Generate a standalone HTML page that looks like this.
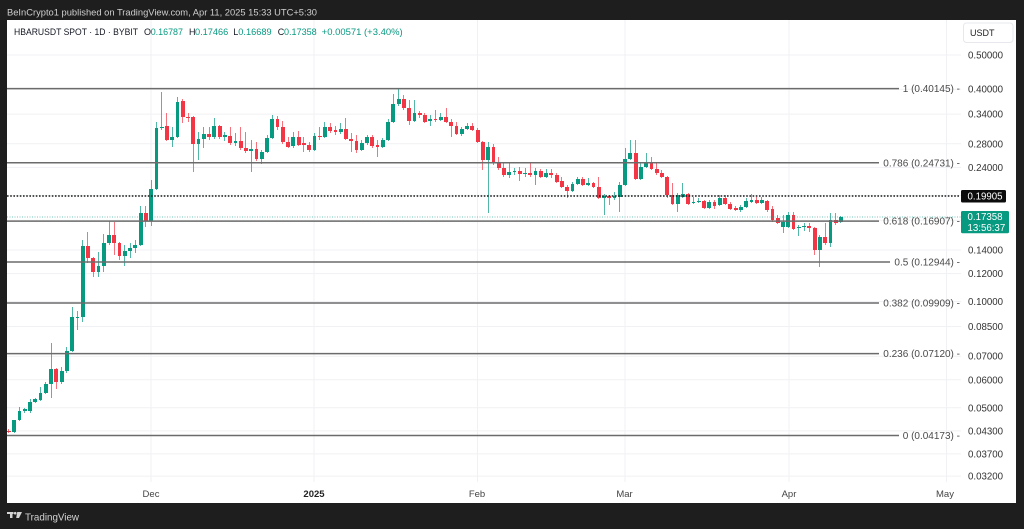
<!DOCTYPE html>
<html><head><meta charset="utf-8">
<style>
*{margin:0;padding:0}
html,body{width:1024px;height:529px;overflow:hidden;background:#1e1e1e;position:relative}
svg{position:absolute;left:0;top:0}
#cs{position:absolute;left:6.365px;top:0;height:529px;display:flex}
#cs i{position:relative;display:block;width:5.27px;flex:none;height:100%}
#cs i::before{content:"";position:absolute;left:2.135px;width:1px;top:calc(var(--h)*1px);height:calc((var(--l) - var(--h))*1px);background:currentColor;opacity:.7}
#cs i::after{content:"";position:absolute;left:0.735px;width:3.8px;top:calc(min(var(--o),var(--c))*1px);height:calc(max(var(--o) - var(--c),var(--c) - var(--o),1)*1px);background:currentColor}
.g{color:#089981}.r{color:#f23645}
text{font-family:"Liberation Sans",Arial,sans-serif}
</style></head><body>
<svg width="1024" height="529">
<rect width="1024" height="529" fill="#1e1e1e"/>
<rect x="7" y="20" width="1009" height="483" fill="#ffffff"/>
<g stroke="#f0f1f4" stroke-width="1">
<line x1="7" x2="961" y1="55" y2="55"/>
<line x1="7" x2="961" y1="89.2" y2="89.2"/>
<line x1="7" x2="961" y1="114.1" y2="114.1"/>
<line x1="7" x2="961" y1="143.8" y2="143.8"/>
<line x1="7" x2="961" y1="167.4" y2="167.4"/>
<line x1="7" x2="961" y1="195.4" y2="195.4"/>
<line x1="7" x2="961" y1="220.3" y2="220.3"/>
<line x1="7" x2="961" y1="250" y2="250"/>
<line x1="7" x2="961" y1="273.6" y2="273.6"/>
<line x1="7" x2="961" y1="301.6" y2="301.6"/>
<line x1="7" x2="961" y1="326.5" y2="326.5"/>
<line x1="7" x2="961" y1="356.2" y2="356.2"/>
<line x1="7" x2="961" y1="379.8" y2="379.8"/>
<line x1="7" x2="961" y1="407.8" y2="407.8"/>
<line x1="7" x2="961" y1="430.9" y2="430.9"/>
<line x1="7" x2="961" y1="453.9" y2="453.9"/>
<line x1="7" x2="961" y1="476.1" y2="476.1"/>
<line x1="151" x2="151" y1="20" y2="482"/>
<line x1="314" x2="314" y1="20" y2="482"/>
<line x1="477.5" x2="477.5" y1="20" y2="482"/>
<line x1="625" x2="625" y1="20" y2="482"/>
<line x1="789" x2="789" y1="20" y2="482"/>
<line x1="946.5" x2="946.5" y1="20" y2="482"/>
</g>
</svg>
<div id="cs">
<i class="r" style="--o:431;--h:429;--l:433;--c:432"></i>
<i class="g" style="--o:432;--h:420;--l:433;--c:420"></i>
<i class="g" style="--o:420;--h:407;--l:421;--c:411"></i>
<i class="g" style="--o:411;--h:408;--l:413;--c:409"></i>
<i class="g" style="--o:411;--h:399;--l:413;--c:402"></i>
<i class="g" style="--o:402;--h:398;--l:403;--c:399"></i>
<i class="g" style="--o:400;--h:387;--l:401;--c:393"></i>
<i class="g" style="--o:393;--h:382;--l:394;--c:384"></i>
<i class="g" style="--o:384;--h:343;--l:398;--c:369"></i>
<i class="r" style="--o:369;--h:368;--l:389;--c:382"></i>
<i class="g" style="--o:382;--h:367;--l:384;--c:371"></i>
<i class="g" style="--o:371;--h:347;--l:373;--c:351"></i>
<i class="g" style="--o:351;--h:307;--l:352;--c:317"></i>
<i class="g" style="--o:318;--h:311;--l:330;--c:317"></i>
<i class="g" style="--o:317;--h:240;--l:322;--c:246"></i>
<i class="r" style="--o:246;--h:232;--l:263;--c:258"></i>
<i class="r" style="--o:258;--h:257;--l:277;--c:272"></i>
<i class="g" style="--o:272;--h:252;--l:277;--c:266"></i>
<i class="g" style="--o:266;--h:234;--l:272;--c:243"></i>
<i class="g" style="--o:243;--h:221;--l:245;--c:235"></i>
<i class="r" style="--o:235;--h:222;--l:255;--c:243"></i>
<i class="r" style="--o:243;--h:242;--l:260;--c:256"></i>
<i class="g" style="--o:256;--h:245;--l:266;--c:251"></i>
<i class="g" style="--o:251;--h:243;--l:258;--c:248"></i>
<i class="g" style="--o:248;--h:240;--l:253;--c:245"></i>
<i class="g" style="--o:245;--h:206;--l:246;--c:213"></i>
<i class="r" style="--o:213;--h:206;--l:227;--c:221"></i>
<i class="g" style="--o:221;--h:180;--l:226;--c:189"></i>
<i class="g" style="--o:189;--h:122;--l:190;--c:128"></i>
<i class="g" style="--o:128;--h:92;--l:130;--c:127"></i>
<i class="r" style="--o:126;--h:113;--l:141;--c:140"></i>
<i class="g" style="--o:140;--h:127;--l:147;--c:137"></i>
<i class="g" style="--o:137;--h:97;--l:138;--c:102"></i>
<i class="r" style="--o:101;--h:99;--l:123;--c:117"></i>
<i class="r" style="--o:117;--h:113;--l:122;--c:118"></i>
<i class="r" style="--o:117;--h:116;--l:172;--c:144"></i>
<i class="g" style="--o:144;--h:132;--l:160;--c:139"></i>
<i class="g" style="--o:139;--h:127;--l:148;--c:134"></i>
<i class="r" style="--o:134;--h:127;--l:140;--c:137"></i>
<i class="g" style="--o:137;--h:118;--l:139;--c:126"></i>
<i class="r" style="--o:126;--h:125;--l:139;--c:137"></i>
<i class="g" style="--o:137;--h:132;--l:141;--c:135"></i>
<i class="r" style="--o:136;--h:127;--l:145;--c:143"></i>
<i class="g" style="--o:143;--h:133;--l:146;--c:141"></i>
<i class="r" style="--o:141;--h:127;--l:150;--c:148"></i>
<i class="r" style="--o:148;--h:132;--l:153;--c:151"></i>
<i class="g" style="--o:151;--h:140;--l:172;--c:149"></i>
<i class="r" style="--o:149;--h:142;--l:161;--c:159"></i>
<i class="g" style="--o:159;--h:150;--l:164;--c:152"></i>
<i class="g" style="--o:152;--h:135;--l:153;--c:138"></i>
<i class="g" style="--o:138;--h:115;--l:139;--c:119"></i>
<i class="r" style="--o:119;--h:116;--l:130;--c:127"></i>
<i class="r" style="--o:127;--h:121;--l:144;--c:142"></i>
<i class="r" style="--o:142;--h:137;--l:148;--c:147"></i>
<i class="g" style="--o:146;--h:132;--l:148;--c:137"></i>
<i class="r" style="--o:137;--h:131;--l:146;--c:145"></i>
<i class="r" style="--o:143;--h:137;--l:152;--c:145"></i>
<i class="r" style="--o:145;--h:142;--l:152;--c:150"></i>
<i class="g" style="--o:150;--h:133;--l:151;--c:136"></i>
<i class="r" style="--o:136;--h:127;--l:140;--c:137"></i>
<i class="g" style="--o:137;--h:122;--l:138;--c:127"></i>
<i class="r" style="--o:127;--h:123;--l:133;--c:131"></i>
<i class="r" style="--o:130;--h:126;--l:135;--c:132"></i>
<i class="g" style="--o:132;--h:123;--l:134;--c:129"></i>
<i class="r" style="--o:129;--h:118;--l:140;--c:139"></i>
<i class="r" style="--o:139;--h:133;--l:152;--c:141"></i>
<i class="r" style="--o:141;--h:135;--l:153;--c:150"></i>
<i class="g" style="--o:150;--h:140;--l:151;--c:143"></i>
<i class="g" style="--o:143;--h:135;--l:145;--c:137"></i>
<i class="r" style="--o:137;--h:135;--l:148;--c:146"></i>
<i class="r" style="--o:145;--h:140;--l:157;--c:147"></i>
<i class="g" style="--o:147;--h:138;--l:148;--c:140"></i>
<i class="g" style="--o:140;--h:119;--l:141;--c:122"></i>
<i class="g" style="--o:122;--h:94;--l:123;--c:104"></i>
<i class="g" style="--o:104;--h:88;--l:106;--c:99"></i>
<i class="r" style="--o:99;--h:95;--l:110;--c:108"></i>
<i class="r" style="--o:108;--h:100;--l:125;--c:121"></i>
<i class="g" style="--o:121;--h:100;--l:122;--c:113"></i>
<i class="r" style="--o:113;--h:111;--l:118;--c:115"></i>
<i class="r" style="--o:115;--h:113;--l:123;--c:122"></i>
<i class="g" style="--o:121;--h:115;--l:126;--c:119"></i>
<i class="r" style="--o:119;--h:110;--l:122;--c:120"></i>
<i class="g" style="--o:120;--h:113;--l:121;--c:117"></i>
<i class="r" style="--o:117;--h:108;--l:123;--c:122"></i>
<i class="r" style="--o:122;--h:119;--l:137;--c:126"></i>
<i class="r" style="--o:126;--h:122;--l:135;--c:134"></i>
<i class="g" style="--o:134;--h:127;--l:136;--c:129"></i>
<i class="g" style="--o:129;--h:123;--l:130;--c:126"></i>
<i class="r" style="--o:126;--h:123;--l:131;--c:130"></i>
<i class="r" style="--o:130;--h:128;--l:143;--c:142"></i>
<i class="r" style="--o:142;--h:141;--l:170;--c:160"></i>
<i class="g" style="--o:160;--h:142;--l:213;--c:147"></i>
<i class="r" style="--o:147;--h:144;--l:165;--c:162"></i>
<i class="r" style="--o:162;--h:157;--l:170;--c:168"></i>
<i class="r" style="--o:168;--h:163;--l:177;--c:175"></i>
<i class="g" style="--o:175;--h:162;--l:178;--c:172"></i>
<i class="g" style="--o:172;--h:168;--l:175;--c:171"></i>
<i class="r" style="--o:171;--h:167;--l:181;--c:174"></i>
<i class="g" style="--o:174;--h:168;--l:177;--c:173"></i>
<i class="r" style="--o:173;--h:162;--l:177;--c:175"></i>
<i class="g" style="--o:175;--h:168;--l:185;--c:171"></i>
<i class="r" style="--o:171;--h:169;--l:178;--c:177"></i>
<i class="g" style="--o:177;--h:169;--l:178;--c:173"></i>
<i class="r" style="--o:173;--h:169;--l:178;--c:175"></i>
<i class="r" style="--o:175;--h:173;--l:183;--c:182"></i>
<i class="r" style="--o:181;--h:177;--l:188;--c:187"></i>
<i class="r" style="--o:187;--h:185;--l:198;--c:191"></i>
<i class="g" style="--o:191;--h:182;--l:192;--c:184"></i>
<i class="g" style="--o:184;--h:177;--l:185;--c:179"></i>
<i class="r" style="--o:179;--h:177;--l:186;--c:185"></i>
<i class="g" style="--o:185;--h:178;--l:186;--c:183"></i>
<i class="r" style="--o:183;--h:182;--l:188;--c:187"></i>
<i class="r" style="--o:187;--h:177;--l:199;--c:198"></i>
<i class="g" style="--o:198;--h:194;--l:215;--c:196"></i>
<i class="r" style="--o:196;--h:195;--l:205;--c:198"></i>
<i class="g" style="--o:198;--h:192;--l:200;--c:196"></i>
<i class="g" style="--o:197;--h:182;--l:212;--c:185"></i>
<i class="g" style="--o:185;--h:148;--l:186;--c:159"></i>
<i class="g" style="--o:159;--h:140;--l:160;--c:153"></i>
<i class="r" style="--o:153;--h:140;--l:180;--c:179"></i>
<i class="g" style="--o:179;--h:163;--l:180;--c:167"></i>
<i class="g" style="--o:167;--h:153;--l:168;--c:162"></i>
<i class="r" style="--o:162;--h:157;--l:170;--c:169"></i>
<i class="r" style="--o:169;--h:163;--l:175;--c:173"></i>
<i class="r" style="--o:173;--h:170;--l:178;--c:177"></i>
<i class="r" style="--o:177;--h:176;--l:198;--c:195"></i>
<i class="r" style="--o:195;--h:183;--l:205;--c:204"></i>
<i class="g" style="--o:204;--h:193;--l:212;--c:195"></i>
<i class="g" style="--o:197;--h:183;--l:198;--c:194"></i>
<i class="r" style="--o:194;--h:193;--l:205;--c:204"></i>
<i class="g" style="--o:203;--h:197;--l:204;--c:202"></i>
<i class="g" style="--o:202;--h:198;--l:203;--c:201"></i>
<i class="r" style="--o:201;--h:200;--l:209;--c:208"></i>
<i class="g" style="--o:208;--h:200;--l:209;--c:202"></i>
<i class="r" style="--o:202;--h:200;--l:209;--c:206"></i>
<i class="g" style="--o:205;--h:195;--l:206;--c:198"></i>
<i class="r" style="--o:198;--h:195;--l:205;--c:204"></i>
<i class="r" style="--o:204;--h:202;--l:210;--c:209"></i>
<i class="r" style="--o:208;--h:206;--l:211;--c:210"></i>
<i class="g" style="--o:210;--h:205;--l:212;--c:207"></i>
<i class="g" style="--o:207;--h:198;--l:208;--c:201"></i>
<i class="g" style="--o:202;--h:194;--l:203;--c:200"></i>
<i class="r" style="--o:200;--h:197;--l:204;--c:203"></i>
<i class="g" style="--o:203;--h:197;--l:204;--c:200"></i>
<i class="r" style="--o:201;--h:200;--l:212;--c:210"></i>
<i class="r" style="--o:209;--h:206;--l:222;--c:220"></i>
<i class="r" style="--o:218;--h:215;--l:224;--c:223"></i>
<i class="g" style="--o:227;--h:215;--l:233;--c:222"></i>
<i class="g" style="--o:227;--h:212;--l:228;--c:215"></i>
<i class="r" style="--o:215;--h:212;--l:230;--c:229"></i>
<i class="g" style="--o:228;--h:225;--l:236;--c:227"></i>
<i class="g" style="--o:227;--h:223;--l:231;--c:226"></i>
<i class="r" style="--o:226;--h:223;--l:232;--c:228"></i>
<i class="r" style="--o:228;--h:227;--l:255;--c:250"></i>
<i class="g" style="--o:250;--h:235;--l:267;--c:237"></i>
<i class="r" style="--o:237;--h:223;--l:245;--c:243"></i>
<i class="g" style="--o:243;--h:213;--l:247;--c:220"></i>
<i class="r" style="--o:220;--h:213;--l:225;--c:223"></i>
<i class="g" style="--o:222;--h:216;--l:223;--c:217"></i>
</div>
<svg width="1024" height="529">
<!-- current price teal dotted line -->
<line x1="7" x2="961" y1="217" y2="217" stroke="#089981" stroke-width="1" stroke-dasharray="1 1.5" opacity="0.55"/>
<!-- fib lines -->
<g stroke="#6b6b6b" stroke-width="1.5">
<line x1="7" x2="899" y1="88.6" y2="88.6"/>
<line x1="7" x2="879" y1="162.8" y2="162.8"/>
<line x1="7" x2="879" y1="221.1" y2="221.1"/>
<line x1="7" x2="890" y1="262" y2="262"/>
<line x1="7" x2="879" y1="303" y2="303"/>
<line x1="7" x2="879" y1="353.6" y2="353.6"/>
<line x1="7" x2="899" y1="435.5" y2="435.5"/>
</g>
<g font-size="10" fill="#4a4a4a" text-anchor="end">
<text x="960" y="92.2">1 (0.40145) -</text>
<text x="960" y="166.4">0.786 (0.24731) -</text>
<text x="960" y="224.7">0.618 (0.16907) -</text>
<text x="960" y="265.6">0.5 (0.12944) -</text>
<text x="960" y="306.6">0.382 (0.09909) -</text>
<text x="960" y="357.2">0.236 (0.07120) -</text>
<text x="960" y="439.1">0 (0.04173) -</text>
</g>
<!-- black dotted 0.19905 -->
<line x1="7" x2="959" y1="196" y2="196" stroke="#1a1a1a" stroke-width="1.6" stroke-dasharray="1.6 1.6"/>
<!-- price axis labels -->
<g font-size="9.7" fill="#333">
<text x="968" y="58.5">0.50000</text>
<text x="968" y="92.7">0.40000</text>
<text x="968" y="117.6">0.34000</text>
<text x="968" y="147.3">0.28000</text>
<text x="968" y="170.9">0.24000</text>
<text x="968" y="253.5">0.14000</text>
<text x="968" y="277.1">0.12000</text>
<text x="968" y="305.1">0.10000</text>
<text x="968" y="330">0.08500</text>
<text x="968" y="359.7">0.07000</text>
<text x="968" y="383.3">0.06000</text>
<text x="968" y="411.3">0.05000</text>
<text x="968" y="434.4">0.04300</text>
<text x="968" y="457.4">0.03700</text>
<text x="968" y="479.6">0.03200</text>
</g>
<!-- price boxes -->
<rect x="961" y="190" width="45" height="12.5" rx="1.5" fill="#0c0c0c"/>
<text x="967.5" y="199.7" font-size="9.7" fill="#fff">0.19905</text>
<rect x="961" y="211" width="48" height="22.3" rx="1.5" fill="#089981"/>
<text x="967.5" y="220.2" font-size="9.7" fill="#fff">0.17358</text>
<text x="967.5" y="231" font-size="9.7" fill="#fff">13:56:37</text>
<!-- USDT box -->
<rect x="963.5" y="23" width="49.5" height="19.5" rx="3" fill="#fff" stroke="#e6e8ee" stroke-width="1"/>
<text x="970" y="36" font-size="9" fill="#222">USDT</text>
<!-- time axis -->
<g font-size="9.5" fill="#444" text-anchor="middle">
<text x="151" y="497">Dec</text>
<text x="314" y="497" font-weight="bold" fill="#222">2025</text>
<text x="477" y="497">Feb</text>
<text x="624.5" y="497">Mar</text>
<text x="789" y="497">Apr</text>
<text x="945" y="497">May</text>
</g>
<!-- header -->
<text x="7" y="15.5" font-size="9.3" fill="#d0d0d0" textLength="310" lengthAdjust="spacingAndGlyphs">BeInCrypto1 published on TradingView.com, Apr 11, 2025 15:33 UTC+5:30</text>
<!-- legend -->
<g font-size="9">
<text x="14" y="35" fill="#131722" textLength="124" lengthAdjust="spacingAndGlyphs">HBARUSDT SPOT · 1D · BYBIT</text>
<text x="144" y="35" fill="#131722">O</text>
<text x="150.7" y="35" fill="#089981" textLength="32.3" lengthAdjust="spacingAndGlyphs">0.16787</text>
<text x="189" y="35" fill="#131722">H</text>
<text x="195" y="35" fill="#089981" textLength="33.3" lengthAdjust="spacingAndGlyphs">0.17466</text>
<text x="233.3" y="35" fill="#131722">L</text>
<text x="238.3" y="35" fill="#089981" textLength="33.3" lengthAdjust="spacingAndGlyphs">0.16689</text>
<text x="277.7" y="35" fill="#131722">C</text>
<text x="284" y="35" fill="#089981" textLength="32.7" lengthAdjust="spacingAndGlyphs">0.17358</text>
<text x="321.7" y="35" fill="#089981" textLength="81" lengthAdjust="spacingAndGlyphs">+0.00571 (+3.40%)</text>
</g>
<!-- footer logo -->
<g fill="#d4d4d4">
<rect x="7" y="512" width="6.5" height="2"/>
<rect x="10" y="512" width="2.5" height="6"/>
<circle cx="15.2" cy="513.2" r="1.3"/>
<polygon points="17.2,512 22,512 19,518 16.2,518"/>
</g>
<text x="25" y="520.5" font-size="10.5" fill="#d4d4d4" textLength="54" lengthAdjust="spacingAndGlyphs">TradingView</text>
</svg>
</body></html>
